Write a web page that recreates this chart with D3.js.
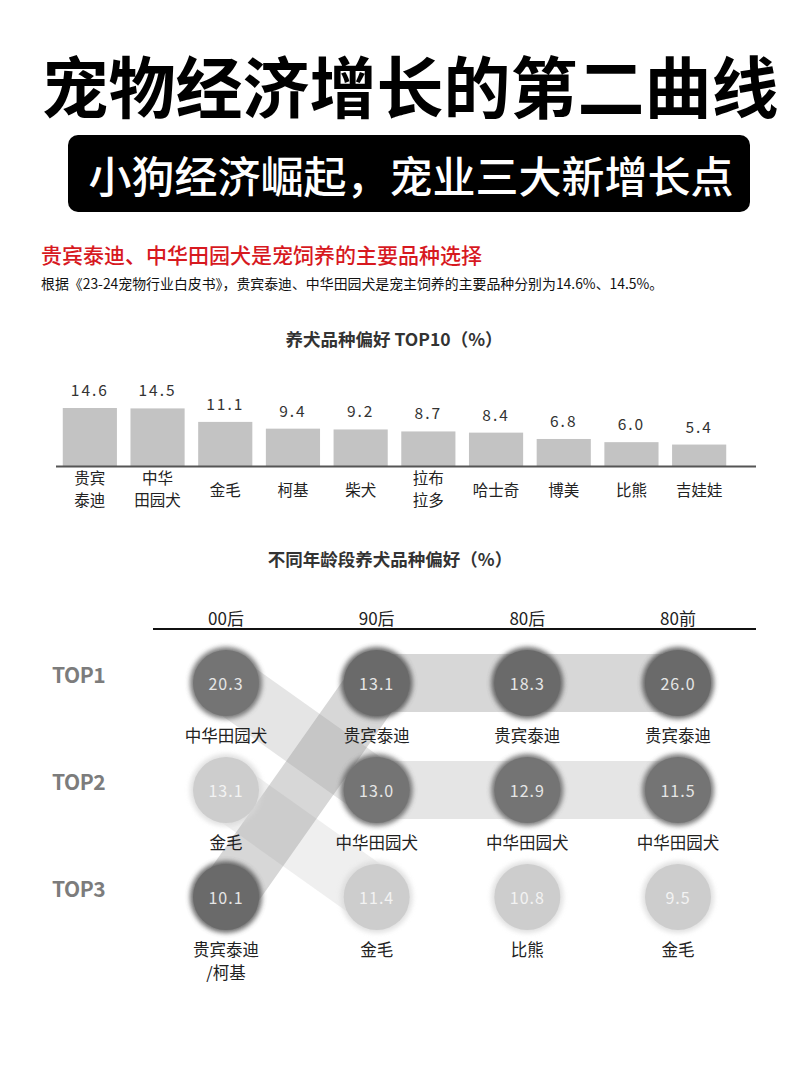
<!DOCTYPE html>
<html>
<head>
<meta charset="utf-8">
<script src="https://cdn.jsdelivr.net/npm/d3@7/dist/d3.min.js"></script>
<style>
  html, body { margin: 0; padding: 0; background: #fff; }
  svg { display: block; }
  text { font-family: "Noto Sans CJK SC", "Noto Sans", sans-serif; }
</style>
</head>
<body>
<svg id="chart" width="800" height="1067"></svg>
<script>
// ---------------- DATA ----------------
const mainTitle = "宠物经济增长的第二曲线";
const subTitle = "小狗经济崛起，宠业三大新增长点";
const sectionHeading = "贵宾泰迪、中华田园犬是宠饲养的主要品种选择";
const sectionNote = "根据《23-24宠物行业白皮书》，贵宾泰迪、中华田园犬是宠主饲养的主要品种分别为14.6%、14.5%。";

const barTitle = "养犬品种偏好 TOP10（%）";
const barCategories = ["贵宾泰迪", "中华田园犬", "金毛", "柯基", "柴犬", "拉布拉多", "哈士奇", "博美", "比熊", "吉娃娃"];
const barLabelLines = [["贵宾", "泰迪"], ["中华", "田园犬"], ["金毛"], ["柯基"], ["柴犬"], ["拉布", "拉多"], ["哈士奇"], ["博美"], ["比熊"], ["吉娃娃"]];
const barValues = [14.6, 14.5, 11.1, 9.4, 9.2, 8.7, 8.4, 6.8, 6.0, 5.4];

const bumpTitle = "不同年龄段养犬品种偏好（%）";
const ageGroups = ["00后", "90后", "80后", "80前"];
const rankLabels = ["TOP1", "TOP2", "TOP3"];
const breedsByAge = [
  ["中华田园犬", "金毛", "贵宾泰迪/柯基"],
  ["贵宾泰迪", "中华田园犬", "金毛"],
  ["贵宾泰迪", "中华田园犬", "比熊"],
  ["贵宾泰迪", "中华田园犬", "金毛"]
];
const valuesByAge = [
  [20.3, 13.1, 10.1],
  [13.1, 13.0, 11.4],
  [18.3, 12.9, 10.8],
  [26.0, 11.5, 9.5]
];
const trackedBreeds = ["中华田园犬", "金毛", "贵宾泰迪"];

// ---------------- DRAW ----------------
const svg = d3.select("#chart");
const defs = svg.append("defs");
const blur = defs.append("filter").attr("id", "halo").attr("x", "-50%").attr("y", "-50%").attr("width", "200%").attr("height", "200%");
blur.append("feGaussianBlur").attr("stdDeviation", 2.5);

// Header
svg.append("text")
  .attr("x", 410).attr("y", 83)
  .attr("text-anchor", "middle").attr("dominant-baseline", "central")
  .attr("font-size", 67).attr("font-weight", 700).attr("fill", "#000")
  .text(mainTitle);

svg.append("rect")
  .attr("x", 68).attr("y", 135).attr("width", 682).attr("height", 77)
  .attr("rx", 10).attr("fill", "#000");
svg.append("text")
  .attr("x", 411).attr("y", 174)
  .attr("text-anchor", "middle").attr("dominant-baseline", "central")
  .attr("font-size", 43).attr("font-weight", 500).attr("fill", "#fff")
  .text(subTitle);

svg.append("text")
  .attr("x", 41).attr("y", 254)
  .attr("dominant-baseline", "central")
  .attr("font-size", 21).attr("font-weight", 500).attr("fill", "#d7191f")
  .text(sectionHeading);
svg.append("text")
  .attr("x", 41).attr("y", 283)
  .attr("dominant-baseline", "central")
  .attr("font-size", 13.9).attr("fill", "#111")
  .text(sectionNote);

// ---------------- BAR CHART ----------------
svg.append("text")
  .attr("x", 394).attr("y", 338)
  .attr("text-anchor", "middle").attr("dominant-baseline", "central")
  .attr("font-size", 17.5).attr("font-weight", 700).attr("fill", "#333")
  .text(barTitle);

const baseY = 466;
const xBar = d3.scaleBand().domain(barCategories).range([56, 733]).paddingInner(0.2).paddingOuter(0.1);
const yBar = d3.scaleLinear().domain([0, 14.6]).range([baseY, 408]);

const barG = svg.append("g");
barG.selectAll("rect").data(barValues).join("rect")
  .attr("x", (d, i) => xBar(barCategories[i]))
  .attr("y", d => yBar(d))
  .attr("width", xBar.bandwidth())
  .attr("height", d => baseY - yBar(d))
  .attr("fill", "#c3c3c3");

barG.selectAll("text.val").data(barValues).join("text")
  .attr("class", "val")
  .attr("x", (d, i) => xBar(barCategories[i]) + xBar.bandwidth() / 2)
  .attr("y", d => yBar(d) - 19)
  .attr("text-anchor", "middle").attr("dominant-baseline", "central")
  .attr("font-size", 15.5).attr("fill", "#333").attr("letter-spacing", 2)
  .text(d => d.toFixed(1));

svg.append("line")
  .attr("x1", 56).attr("x2", 756).attr("y1", baseY + 0.5).attr("y2", baseY + 0.5)
  .attr("stroke", "#555").attr("stroke-width", 2);

barG.selectAll("g.lab").data(barLabelLines).join("g")
  .attr("class", "lab")
  .each(function(lines, i) {
    const cx = xBar(barCategories[i]) + xBar.bandwidth() / 2;
    const ys = lines.length === 2 ? [477, 499] : [489];
    d3.select(this).selectAll("text").data(lines).join("text")
      .attr("x", cx).attr("y", (d, j) => ys[j])
      .attr("text-anchor", "middle").attr("dominant-baseline", "central")
      .attr("font-size", 15.5).attr("fill", "#222")
      .text(d => d);
  });

// ---------------- BUMP CHART ----------------
svg.append("text")
  .attr("x", 390).attr("y", 558)
  .attr("text-anchor", "middle").attr("dominant-baseline", "central")
  .attr("font-size", 17.5).attr("font-weight", 700).attr("fill", "#333")
  .text(bumpTitle);

const xAge = d3.scalePoint().domain(ageGroups).range([226, 678]);
const yRank = d3.scalePoint().domain(rankLabels).range([683, 897]);

svg.append("g").selectAll("text").data(ageGroups).join("text")
  .attr("x", d => xAge(d)).attr("y", 617)
  .attr("text-anchor", "middle").attr("dominant-baseline", "central")
  .attr("font-size", 17).attr("fill", "#222")
  .text(d => d);
svg.append("line")
  .attr("x1", 153).attr("x2", 756).attr("y1", 629).attr("y2", 629)
  .attr("stroke", "#111").attr("stroke-width", 2);

svg.append("g").selectAll("text").data(rankLabels).join("text")
  .attr("x", 52).attr("y", d => yRank(d) - 9)
  .attr("dominant-baseline", "central")
  .attr("font-family", "'Open Sans', Lato, sans-serif")
  .attr("font-size", 21).attr("font-weight", 600).attr("fill", "#7c7c7c")
  .attr("letter-spacing", -0.5)
  .text(d => d);

// bands between consecutive columns for the same breed
const bandStyle = {
  "贵宾泰迪": { color: "#8a8a8a", op: 0.34 },
  "中华田园犬": { color: "#a0a0a0", op: 0.27 },
  "金毛": { color: "#b0b0b0", op: 0.2 }
};
const bandG = svg.append("g");
trackedBreeds.forEach(breed => {
  const segs = [];
  for (let a = 0; a < ageGroups.length - 1; a++) {
    const r1 = breedsByAge[a].findIndex(b => b.split("/").includes(breed));
    const r2 = breedsByAge[a + 1].findIndex(b => b.split("/").includes(breed));
    if (r1 >= 0 && r2 >= 0) {
      segs.push([[xAge(ageGroups[a]), yRank(rankLabels[r1])], [xAge(ageGroups[a + 1]), yRank(rankLabels[r2])]]);
    }
  }
  if (!segs.length) return;
  const pts = [segs[0][0]];
  segs.forEach(s => pts.push(s[1]));
  bandG.append("path")
    .attr("d", d3.line()(pts))
    .attr("fill", "none")
    .attr("stroke", bandStyle[breed].color)
    .attr("stroke-opacity", bandStyle[breed].op)
    .attr("stroke-width", 58)
    .attr("stroke-linejoin", "round");
});

function circleFill(name) {
  if (name.startsWith("贵宾泰迪")) return "#6a6a6a";
  if (name === "中华田园犬") return "#747474";
  return "#cdcdcd";
}
function haloFill(name) {
  if (name.startsWith("贵宾泰迪")) return "#474747";
  if (name === "中华田园犬") return "#585858";
  return "#d8d8d8";
}

const cells = [];
ageGroups.forEach((age, a) => {
  rankLabels.forEach((rk, r) => {
    cells.push({ age, rk, name: breedsByAge[a][r], value: valuesByAge[a][r] });
  });
});

const cellG = svg.append("g").selectAll("g").data(cells).join("g")
  .attr("transform", d => `translate(${xAge(d.age)},${yRank(d.rk)})`);
cellG.append("circle").attr("r", 36).attr("fill", d => haloFill(d.name)).attr("filter", "url(#halo)").attr("opacity", 0.8);
cellG.append("circle").attr("r", 33).attr("fill", d => circleFill(d.name));
cellG.append("text")
  .attr("y", 0)
  .attr("text-anchor", "middle").attr("dominant-baseline", "central")
  .attr("font-size", 16).attr("letter-spacing", 1)
  .attr("fill", d => circleFill(d.name) === "#cdcdcd" ? "#f3f3f3" : "#e6e6e6")
  .text(d => d.value.toFixed(1));
cellG.each(function(d) {
  const parts = d.name.includes("/") ? [d.name.split("/")[0], "/" + d.name.split("/")[1]] : [d.name];
  d3.select(this).selectAll("text.nm").data(parts).join("text")
    .attr("class", "nm")
    .attr("y", (p, j) => 52 + j * 23)
    .attr("text-anchor", "middle").attr("dominant-baseline", "central")
    .attr("font-size", 16.5).attr("fill", "#222")
    .text(p => p);
});
</script>
</body>
</html>
